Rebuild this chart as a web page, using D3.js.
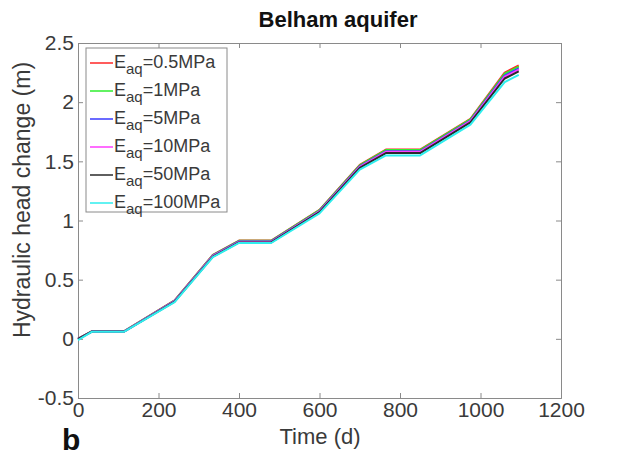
<!DOCTYPE html>
<html>
<head>
<meta charset="utf-8">
<script src="https://cdn.jsdelivr.net/npm/d3@7"></script>
<style>
  body { margin: 0; background: #fff; }
  text { font-family: "Liberation Sans", Arial, sans-serif; }
</style>
</head>
<body>
<div id="chart"></div>
<script>
// time axis shared by all curves (days)
var timeDays = [0, 35, 115, 240, 335, 400, 480, 600, 700, 765, 850, 975, 1060, 1095];

// head change (m) per aquifer modulus
var head05 = [0, 0.065, 0.065, 0.325, 0.71, 0.83, 0.83, 1.09, 1.47, 1.60, 1.60, 1.86, 2.25, 2.31];
var head1 = [0, 0.065, 0.065, 0.323, 0.708, 0.828, 0.828, 1.087, 1.465, 1.595, 1.595, 1.855, 2.24, 2.30];
var head5 = [0, 0.063, 0.063, 0.32, 0.703, 0.823, 0.823, 1.08, 1.457, 1.585, 1.585, 1.845, 2.225, 2.285];
var head10 = [0, 0.063, 0.063, 0.318, 0.70, 0.82, 0.82, 1.077, 1.453, 1.58, 1.58, 1.84, 2.215, 2.275];
var head50 = [0, 0.062, 0.062, 0.315, 0.695, 0.815, 0.815, 1.07, 1.445, 1.57, 1.57, 1.83, 2.20, 2.26];
var head100 = [-0.01, 0.06, 0.06, 0.31, 0.69, 0.81, 0.81, 1.06, 1.43, 1.55, 1.55, 1.81, 2.17, 2.23];

var seriesLabels = ["0.5MPa", "1MPa", "5MPa", "10MPa", "50MPa", "100MPa"];
var seriesColors = ["#ff2626", "#2eee2e", "#3a3aff", "#ff3cff", "#2a2a2a", "#2eeeee"];
var seriesValues = [head05, head1, head5, head10, head50, head100];

var xTicks = [0, 200, 400, 600, 800, 1000, 1200];
var yTicks = [-0.5, 0, 0.5, 1, 1.5, 2, 2.5];

var W = 620, H = 458;
var margin = { top: 43, right: 59, bottom: 60, left: 78 };
var width = W - margin.left - margin.right;
var height = H - margin.top - margin.bottom;

var svg = d3.select("#chart").append("svg")
    .attr("width", W)
    .attr("height", H);

var g = svg.append("g")
    .attr("transform", "translate(" + margin.left + "," + margin.top + ")");

var x = d3.scaleLinear().domain([0, 1200]).range([0, width]);
var y = d3.scaleLinear().domain([-0.5, 2.5]).range([height, 0]);

var axisColor = "#8a8a8a";
var textColor = "#3a3a3a";

// axes, MATLAB style ticks pointing inside
var xAxis = g.append("g")
    .attr("transform", "translate(0," + height + ")")
    .call(d3.axisBottom(x).tickValues(xTicks).tickSize(-5).tickPadding(4).tickFormat(d3.format("d")));
var xTop = g.append("g")
    .call(d3.axisTop(x).tickValues(xTicks).tickSize(-5).tickFormat(""));
var yAxis = g.append("g")
    .call(d3.axisLeft(y).tickValues(yTicks).tickSize(-5).tickPadding(4).tickFormat(function (d) { return d; }));
var yRight = g.append("g")
    .attr("transform", "translate(" + width + ",0)")
    .call(d3.axisRight(y).tickValues(yTicks).tickSize(-5).tickFormat(""));

[xAxis, xTop, yAxis, yRight].forEach(function (a) {
    a.selectAll("path, line").attr("stroke", axisColor);
    a.selectAll("text").attr("fill", textColor).style("font-size", "21px");
});

// curves
var line = d3.line()
    .x(function (d, i) { return x(timeDays[i]); })
    .y(function (d) { return y(d); });

g.selectAll(".curve")
    .data(seriesValues)
  .enter().append("path")
    .attr("class", "curve")
    .attr("d", line)
    .attr("fill", "none")
    .attr("stroke", function (d, i) { return seriesColors[i]; })
    .attr("stroke-width", 2)
    .attr("stroke-linejoin", "round");

// legend
var legend = g.append("g").attr("transform", "translate(8,5)");
legend.append("rect")
    .attr("width", 141)
    .attr("height", 164)
    .attr("fill", "#fff")
    .attr("stroke", axisColor);

var rows = legend.selectAll(".row")
    .data(seriesLabels)
  .enter().append("g")
    .attr("transform", function (d, i) { return "translate(0," + (15 + i * 28) + ")"; });

rows.append("line")
    .attr("x1", 4).attr("x2", 27)
    .attr("stroke", function (d, i) { return seriesColors[i]; })
    .attr("stroke-width", 1.5);

var lt = rows.append("text")
    .attr("x", 28)
    .attr("y", 5)
    .attr("fill", textColor)
    .style("font-size", "18px");
lt.append("tspan").text("E");
lt.append("tspan").attr("dy", 6).style("font-size", "15px").text("aq");
lt.append("tspan").attr("dy", -6).text(function (d) { return "=" + d; });

// titles
svg.append("text")
    .attr("x", 338).attr("y", 27)
    .attr("text-anchor", "middle")
    .style("font-size", "22px")
    .style("font-weight", "bold")
    .attr("fill", "#111")
    .text("Belham aquifer");

svg.append("text")
    .attr("x", 320).attr("y", 444)
    .attr("text-anchor", "middle")
    .style("font-size", "22px")
    .attr("fill", textColor)
    .text("Time (d)");

svg.append("text")
    .attr("transform", "translate(30,200) rotate(-90)")
    .attr("text-anchor", "middle")
    .style("font-size", "23px")
    .attr("fill", textColor)
    .text("Hydraulic head change (m)");

svg.append("text")
    .attr("x", 62).attr("y", 450)
    .style("font-size", "30px")
    .style("font-weight", "bold")
    .attr("fill", "#111")
    .text("b");
</script>
</body>
</html>
